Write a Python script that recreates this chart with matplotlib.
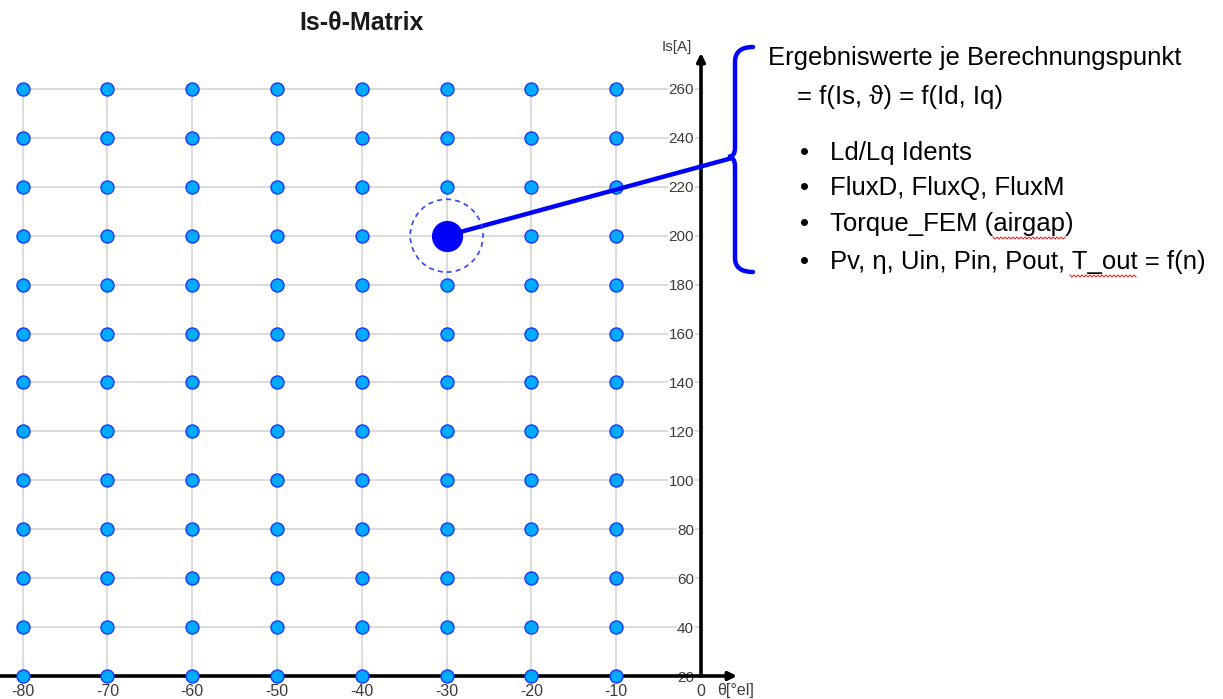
import numpy as np
import matplotlib
matplotlib.use("Agg")
import matplotlib.pyplot as plt
from matplotlib.path import Path
from matplotlib.patches import PathPatch

plt.rcParams['font.family'] = ['Liberation Sans', 'DejaVu Sans']

# grid of calculation points
theta = [-80, -70, -60, -50, -40, -30, -20, -10]
current = [20, 40, 60, 80, 100, 120, 140, 160, 180, 200, 220, 240, 260]
x_ticks = [-80, -70, -60, -50, -40, -30, -20, -10, 0]
y_ticks = [20, 40, 60, 80, 100, 120, 140, 160, 180, 200, 220, 240, 260]
highlight = (-30, 200)

header = "Ergebniswerte je Berechnungspunkt"
subheader = "= f(Is, \u03d1) = f(Id, Iq)"
bullets = ["Ld/Lq Idents",
           "FluxD, FluxQ, FluxM",
           "Torque_FEM (airgap)",
           "Pv, \u03b7, Uin, Pin, Pout, T_out = f(n)"]

W, H = 1223, 699
fig = plt.figure(figsize=(W / 100, H / 100), dpi=100)


def fx(px):
    return px / W


def fy(py):
    return 1 - py / H


ax = fig.add_axes([0, fy(676), fx(760), (676 - 40) / H])
ax.set_xlim(-82.67, 59 / 8.48)
ax.set_ylim(20, 280)
for s in ax.spines.values():
    s.set_visible(False)
ax.spines['left'].set_position(('data', 0))

# grid lines only across the point range
grid_col = '#dcdcdc'
ax.hlines(current, theta[0], 0, colors=grid_col, lw=1.4, zorder=1)
ax.vlines(theta, current[0], current[-1], colors=grid_col, lw=1.4, zorder=1)

# axes with arrows
ax.annotate('', xy=(4.25, 20), xytext=(-82.67, 20), annotation_clip=False,
            arrowprops=dict(arrowstyle='-|>', lw=2.6, color='black',
                            mutation_scale=12, shrinkA=0, shrinkB=0), zorder=3)
ax.annotate('', xy=(0, 274.7), xytext=(0, 20), annotation_clip=False,
            arrowprops=dict(arrowstyle='-|>', lw=2.6, color='black',
                            mutation_scale=12, shrinkA=0, shrinkB=0), zorder=3)

tx, ty = np.meshgrid(theta, current)
mask = ~((tx == highlight[0]) & (ty == highlight[1]))
ax.scatter(tx[mask], ty[mask], s=88, color='#00aaff', edgecolors='#1a35ff',
           linewidths=1.0, zorder=4, clip_on=False)

# highlighted point and link to the result list
ax.plot([highlight[0], 3.4], [highlight[1], 231.5], color='#0000ff', lw=3.2,
        zorder=5, clip_on=False, solid_capstyle='round')
ax.scatter([highlight[0]], [highlight[1]], s=460, color='#0000ff', zorder=6)
ax.scatter([highlight[0]], [highlight[1]], s=2750, facecolors='none',
           edgecolors='#3344ff', linewidths=1.2, linestyles=(0, (3, 2.5)),
           zorder=6)

ax.set_xticks(x_ticks)
ax.set_xticklabels([str(v) for v in x_ticks])
ax.set_yticks(y_ticks)
ax.set_yticklabels([str(v) for v in y_ticks])
ax.tick_params(axis='both', length=0, labelsize=11, labelcolor='#403a3a')
ax.tick_params(axis='x', pad=6, labelsize=11.5)
ax.tick_params(axis='y', pad=5)
for lab in ax.get_yticklabels():
    lab.set_bbox(dict(facecolor='white', edgecolor='none', pad=0.3))

fig.text(fx(692), fy(47), "Is[A]", ha='right', va='center', fontsize=11,
         color='#403a3a')
fig.text(fx(717), fy(691), "\u03b8[\u00b0el]", ha='left', va='center',
         fontsize=11.5, color='#403a3a')

fig.text(fx(362), fy(23), "Is-\u03b8-Matrix", ha='center', va='center',
         fontsize=18, fontweight='bold', color='#1a1a1a')

# curly brace
verts = [(753, 47), (735, 47), (735, 62), (735, 148), (735, 157), (728, 157),
         (735, 157), (735, 166), (735, 258), (735, 272), (753, 272)]
codes = [Path.MOVETO, Path.CURVE3, Path.CURVE3, Path.LINETO, Path.CURVE3,
         Path.CURVE3, Path.CURVE3, Path.CURVE3, Path.LINETO, Path.CURVE3,
         Path.CURVE3]
brace = Path([(fx(x), fy(y)) for x, y in verts], codes)
fig.patches.append(PathPatch(brace, transform=fig.transFigure, fill=False,
                             edgecolor='#0000ff', lw=3.2, capstyle='round'))

fs = 18.5
fig.text(fx(768), fy(58), header, ha='left', va='center', fontsize=fs,
         color='black')
fig.text(fx(797), fy(97), subheader, ha='left', va='center', fontsize=fs,
         color='black')
for yy, b in zip([153, 188, 224, 262], bullets):
    fig.text(fx(800), fy(yy), "\u2022", ha='left', va='center', fontsize=fs)
    fig.text(fx(830), fy(yy), b, ha='left', va='center', fontsize=fs)

# spell-check squiggles
for x0, x1, yy in [(993, 1066, 238), (1070, 1137, 276)]:
    xs = np.arange(x0, x1, 2.0)
    ys = yy + np.where(np.arange(len(xs)) % 2 == 0, -1.0, 1.0)
    fig.lines.append(plt.Line2D(fx(xs), fy(ys), transform=fig.transFigure,
                                color='#e03030', lw=0.8))

fig.savefig("out.png", dpi=100)
